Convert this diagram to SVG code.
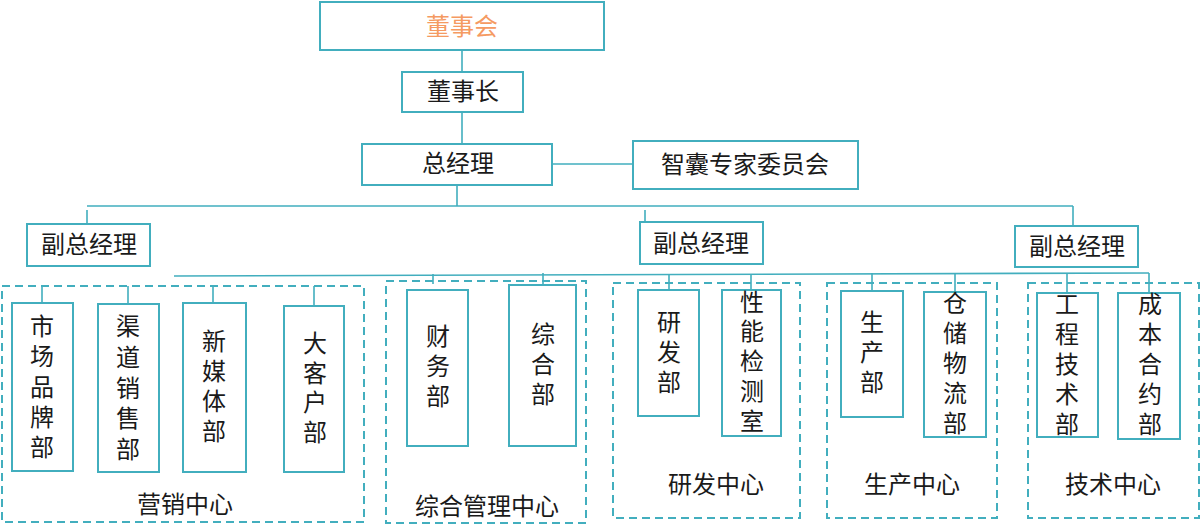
<svg xmlns="http://www.w3.org/2000/svg" width="1200" height="526" viewBox="0 0 1200 526">
<style>
.box{fill:#fff;stroke:#42AEBE;stroke-width:2}
.grp{fill:none;stroke:#42AEBE;stroke-width:2;stroke-dasharray:8,5}
.ln{fill:none;stroke:#42AEBE;stroke-width:1.6}
text{font-family:"Liberation Serif","Noto Sans CJK SC",serif;font-size:24px;fill:#1a1a1a;text-anchor:middle;dominant-baseline:central}
.org{fill:#F59A62}
</style>
<rect width="1200" height="526" fill="#fff"/>
<g id="connectors">
<path class="ln" d="M462 50V72M462 112V144M552 164H633M457 185V206M87 206H1073M87 210V224M645 210V222M1073 206V226"/>
<path class="ln" d="M174 276L1149 273"/>
<path class="ln" d="M42 286V303M128 286V304M213 286V303M314 286V306"/>
<path class="ln" d="M433 274V284M543 273V286M669 274V290M751 274V290M872 273V291M955 273V292M1067 273V293M1149 273V293"/>
</g>
<g id="g-yingxiao"><rect class="grp" x="2" y="286" width="362" height="236"/><text x="185" y="505">营销中心</text></g>
<g id="g-zonghe"><rect class="grp" x="386" y="281" width="200" height="242"/><text x="487" y="507">综合管理中心</text></g>
<g id="g-yanfa"><rect class="grp" x="613" y="283" width="187" height="235"/><text x="716" y="485">研发中心</text></g>
<g id="g-shengchan"><rect class="grp" x="827" y="283" width="170" height="235"/><text x="912" y="485">生产中心</text></g>
<g id="g-jishu"><rect class="grp" x="1028" y="283" width="171" height="235"/><text x="1113" y="485">技术中心</text></g>
<g id="n-dongshihui"><rect class="box" x="320" y="2" width="284" height="48"/><text class="org" x="462" y="27">董事会</text></g>
<g id="n-dongshizhang"><rect class="box" x="402" y="72" width="121" height="40"/><text x="463" y="92">董事长</text></g>
<g id="n-zongjingli"><rect class="box" x="362" y="144" width="190" height="41"/><text x="458" y="164">总经理</text></g>
<g id="n-zhinang"><rect class="box" x="633" y="141" width="225" height="48"/><text x="745" y="165">智囊专家委员会</text></g>
<g id="n-fzjl1"><rect class="box" x="27" y="224" width="123" height="42"/><text x="89" y="245">副总经理</text></g>
<g id="n-fzjl2"><rect class="box" x="640" y="222" width="123" height="42"/><text x="701" y="244">副总经理</text></g>
<g id="n-fzjl3"><rect class="box" x="1015" y="226" width="123" height="41"/><text x="1077" y="247">副总经理</text></g>
<g id="n-shichang"><rect class="box" x="12" y="303" width="61" height="168"/><text x="42"><tspan x="42" y="327">市</tspan><tspan x="42" y="357">场</tspan><tspan x="42" y="388">品</tspan><tspan x="42" y="418">牌</tspan><tspan x="42" y="448">部</tspan></text></g>
<g id="n-qudao"><rect class="box" x="98" y="304" width="61" height="168"/><text x="128"><tspan x="128" y="327">渠</tspan><tspan x="128" y="358">道</tspan><tspan x="128" y="389">销</tspan><tspan x="128" y="419">售</tspan><tspan x="128" y="450">部</tspan></text></g>
<g id="n-xinmeiti"><rect class="box" x="183" y="303" width="63" height="169"/><text x="214"><tspan x="214" y="342">新</tspan><tspan x="214" y="372">媒</tspan><tspan x="214" y="402">体</tspan><tspan x="214" y="432">部</tspan></text></g>
<g id="n-dakehu"><rect class="box" x="284" y="306" width="60" height="166"/><text x="315"><tspan x="315" y="344">大</tspan><tspan x="315" y="374">客</tspan><tspan x="315" y="403">户</tspan><tspan x="315" y="433">部</tspan></text></g>
<g id="n-caiwu"><rect class="box" x="407" y="290" width="61" height="156"/><text x="438"><tspan x="438" y="337">财</tspan><tspan x="438" y="367">务</tspan><tspan x="438" y="397">部</tspan></text></g>
<g id="n-zonghebu"><rect class="box" x="509" y="285" width="67" height="161"/><text x="543"><tspan x="543" y="335">综</tspan><tspan x="543" y="365">合</tspan><tspan x="543" y="395">部</tspan></text></g>
<g id="n-yanfabu"><rect class="box" x="638" y="290" width="61" height="126"/><text x="669"><tspan x="669" y="323">研</tspan><tspan x="669" y="353">发</tspan><tspan x="669" y="383">部</tspan></text></g>
<g id="n-jiance"><rect class="box" x="722" y="290" width="59" height="146"/><text x="752"><tspan x="752" y="303">性</tspan><tspan x="752" y="332">能</tspan><tspan x="752" y="362">检</tspan><tspan x="752" y="392">测</tspan><tspan x="752" y="422">室</tspan></text></g>
<g id="n-shengchanbu"><rect class="box" x="841" y="291" width="62" height="126"/><text x="872"><tspan x="872" y="323">生</tspan><tspan x="872" y="353">产</tspan><tspan x="872" y="383">部</tspan></text></g>
<g id="n-cangchu"><rect class="box" x="924" y="292" width="62" height="145"/><text x="955"><tspan x="955" y="304">仓</tspan><tspan x="955" y="334">储</tspan><tspan x="955" y="364">物</tspan><tspan x="955" y="394">流</tspan><tspan x="955" y="424">部</tspan></text></g>
<g id="n-gongcheng"><rect class="box" x="1037" y="293" width="61" height="144"/><text x="1067"><tspan x="1067" y="305">工</tspan><tspan x="1067" y="335">程</tspan><tspan x="1067" y="365">技</tspan><tspan x="1067" y="395">术</tspan><tspan x="1067" y="425">部</tspan></text></g>
<g id="n-chengben"><rect class="box" x="1118" y="293" width="62" height="146"/><text x="1150"><tspan x="1150" y="305">成</tspan><tspan x="1150" y="335">本</tspan><tspan x="1150" y="365">合</tspan><tspan x="1150" y="395">约</tspan><tspan x="1150" y="425">部</tspan></text></g>
</svg>
